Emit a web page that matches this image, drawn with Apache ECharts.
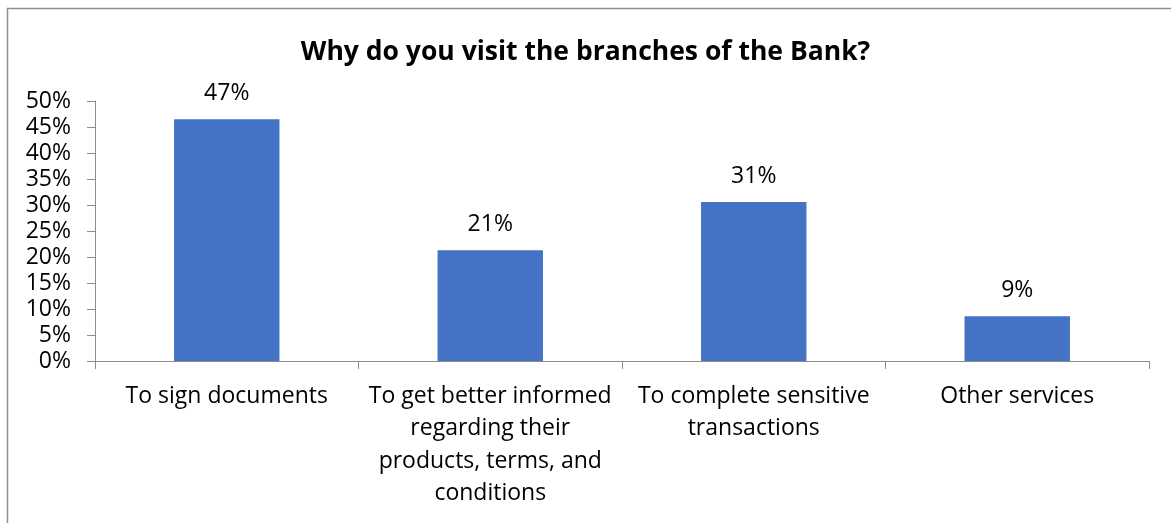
<!DOCTYPE html>
<html>
<head>
<meta charset="utf-8">
<style>
  html, body { margin: 0; padding: 0; background: #ffffff; }
  #chart { width: 1171px; height: 523px; }
</style>
<script src="https://cdn.jsdelivr.net/npm/echarts@6/dist/echarts.min.js"></script>
</head>
<body>
<div id="chart"></div>
<script>
// Survey answers: reasons for visiting a bank branch (share of respondents, %)
const titleText = 'Why do you visit the branches of the Bank?';
const categories = [
  'To sign documents',
  'To get better informed\nregarding their\nproducts, terms, and\nconditions',
  'To complete sensitive\ntransactions',
  'Other services'
];
const shares = [46.5, 21.3, 30.6, 8.6];
const yTicks = { min: 0, max: 50, step: 5 };

const FONT = '"Open Sans", "Noto Sans", sans-serif';
const AXIS_GREY = '#8c8c8c';

const chart = echarts.init(document.getElementById('chart'), null, { renderer: 'canvas' });

chart.setOption({
  backgroundColor: '#ffffff',
  animation: false,
  textStyle: { fontFamily: FONT },
  title: {
    text: titleText,
    left: 'center',
    top: 34,
    textStyle: { fontFamily: FONT, fontSize: 26.5, fontWeight: 'bold', color: '#000000' }
  },
  graphic: [{
    type: 'rect',
    shape: { x: 7.5, y: 8.5, width: 1200, height: 600 },
    style: { fill: 'none', stroke: '#8f8f8f', lineWidth: 1.5 },
    silent: true
  }],
  grid: { left: 95, right: 22, top: 101, bottom: 162, containLabel: false },
  xAxis: {
    type: 'category',
    data: categories,
    axisLine: { show: true, lineStyle: { color: AXIS_GREY, width: 1 } },
    axisTick: { show: true, alignWithLabel: false, length: 8, lineStyle: { color: AXIS_GREY } },
    axisLabel: {
      interval: 0,
      margin: 19,
      fontSize: 23,
      lineHeight: 32.5,
      color: '#000000',
      fontFamily: FONT
    }
  },
  yAxis: {
    type: 'value',
    min: yTicks.min,
    max: yTicks.max,
    interval: yTicks.step,
    splitLine: { show: false },
    axisLine: { show: true, lineStyle: { color: AXIS_GREY, width: 1 } },
    axisTick: { show: true, length: 8, lineStyle: { color: AXIS_GREY } },
    axisLabel: {
      margin: 24,
      fontSize: 23,
      color: '#000000',
      fontFamily: FONT,
      formatter: v => v + '%'
    }
  },
  series: [{
    type: 'bar',
    data: shares,
    barWidth: '40%',
    itemStyle: { color: '#4472C4' },
    label: {
      show: true,
      position: 'top',
      distance: 14,
      fontSize: 23,
      color: '#000000',
      fontFamily: FONT,
      formatter: p => Math.round(p.value) + '%'
    }
  }]
});
</script>
</body>
</html>
